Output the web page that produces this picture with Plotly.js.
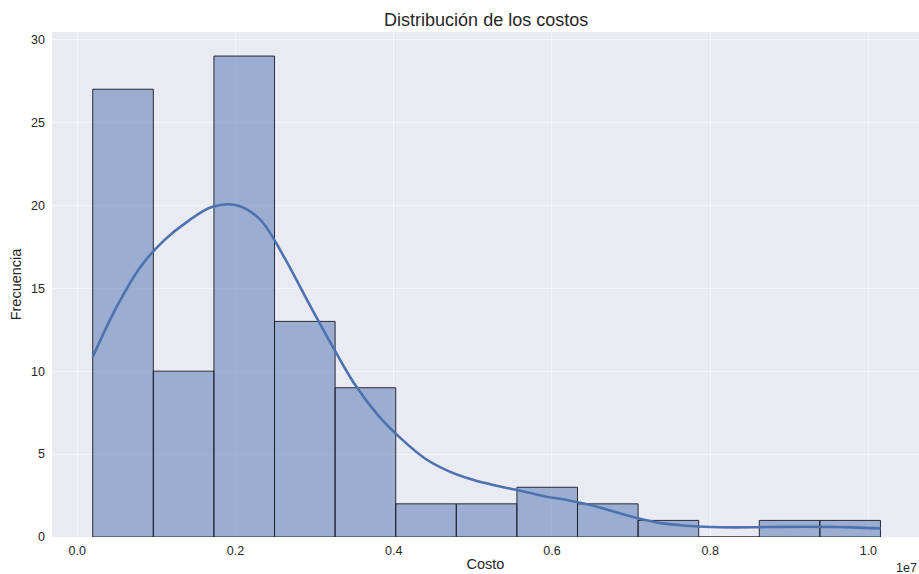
<!DOCTYPE html>
<html>
<head>
<meta charset="utf-8">
<script src="https://cdn.plot.ly/plotly-3.0.1.min.js"></script>
<style>
  html, body { margin: 0; padding: 0; background: #ffffff; }
  #chart { width: 919px; height: 574px; }
</style>
</head>
<body>
<div id="chart"></div>
<script>
// Histogram of costs: 13 equal-width bins starting at the minimum cost
const binStart = 195000;
const binWidth = 766000;
const counts = [27, 10, 29, 13, 9, 2, 2, 3, 2, 1, 0, 1, 1];

// Kernel density estimate, scaled to counts, sampled every 0.3e6
const kdeX = [195000, 500000, 800000, 1100000, 1400000, 1700000, 2000000, 2300000,
  2600000, 2900000, 3200000, 3500000, 3800000, 4100000, 4400000, 4700000, 5000000,
  5300000, 5600000, 5900000, 6200000, 6500000, 6800000, 7100000, 7400000, 7700000,
  8000000, 8300000, 8600000, 8900000, 9200000, 9500000, 9800000, 10152000];
const kdeY = [10.85, 13.9, 16.3, 17.9, 19.05, 19.9, 20.02, 19.2,
  17.0, 14.33, 11.72, 9.25, 7.35, 5.9, 4.72, 3.96, 3.45,
  3.09, 2.79, 2.46, 2.22, 1.91, 1.51, 1.12, 0.82, 0.68,
  0.60, 0.58, 0.59, 0.61, 0.62, 0.61, 0.58, 0.52];

const xTickVals = [0, 2000000, 4000000, 6000000, 8000000, 10000000];
const xTickText = ['0.0', '0.2', '0.4', '0.6', '0.8', '1.0'];
const yTickVals = [0, 5, 10, 15, 20, 25, 30];

const binCenters = counts.map((_, i) => binStart + binWidth * (i + 0.5));

const font = '"Liberation Sans", Arial, Helvetica, sans-serif';

const bars = {
  type: 'bar',
  x: binCenters,
  y: counts,
  width: binWidth,
  marker: {
    color: 'rgba(76,114,176,0.5)',
    line: { color: 'rgba(25,25,35,0.9)', width: 1 }
  },
  hoverinfo: 'x+y',
  showlegend: false
};

const kde = {
  type: 'scatter',
  mode: 'lines',
  x: kdeX,
  y: kdeY,
  line: { color: '#4C72B0', width: 2.6, shape: 'spline', smoothing: 1 },
  showlegend: false
};

const layout = {
  width: 919,
  height: 574,
  margin: { l: 52, r: 0, t: 32, b: 37 },
  paper_bgcolor: '#ffffff',
  plot_bgcolor: '#EAEAF2',
  bargap: 0,
  font: { family: font, color: '#262626', size: 12 },
  title: {
    text: 'Distribución de los costos',
    font: { family: font, size: 18, color: '#262626' },
    x: 0.529, xanchor: 'center', y: 0.965, yanchor: 'middle'
  },
  xaxis: {
    range: [-320000, 10640000],
    tickvals: xTickVals,
    ticktext: xTickText,
    showgrid: true,
    gridcolor: 'rgba(255,255,255,0.5)',
    gridwidth: 1,
    zeroline: false,
    showline: false,
    ticks: '',
    ticklabelstandoff: 4,
    tickfont: { family: font, size: 12.5, color: '#262626' },
    automargin: false,
    title: { text: 'Costo', font: { family: font, size: 14.5, color: '#262626' }, standoff: 2 }
  },
  yaxis: {
    range: [0, 30.45],
    tickvals: yTickVals,
    showgrid: true,
    gridcolor: 'rgba(255,255,255,0.5)',
    gridwidth: 1,
    zeroline: false,
    showline: false,
    ticks: '',
    ticklabelstandoff: 6,
    tickfont: { family: font, size: 12.5, color: '#262626' },
    automargin: false,
    title: { text: 'Frecuencia', font: { family: font, size: 14.5, color: '#262626' }, standoff: 6 }
  },
  annotations: [{
    text: '1e7',
    xref: 'paper', yref: 'paper',
    x: 1, y: 0, xanchor: 'right', yanchor: 'top',
    yshift: -22,
    showarrow: false,
    font: { family: font, size: 12.5, color: '#262626' }
  }]
};

Plotly.newPlot('chart', [bars, kde], layout, { displayModeBar: false, staticPlot: true });
</script>
</body>
</html>
